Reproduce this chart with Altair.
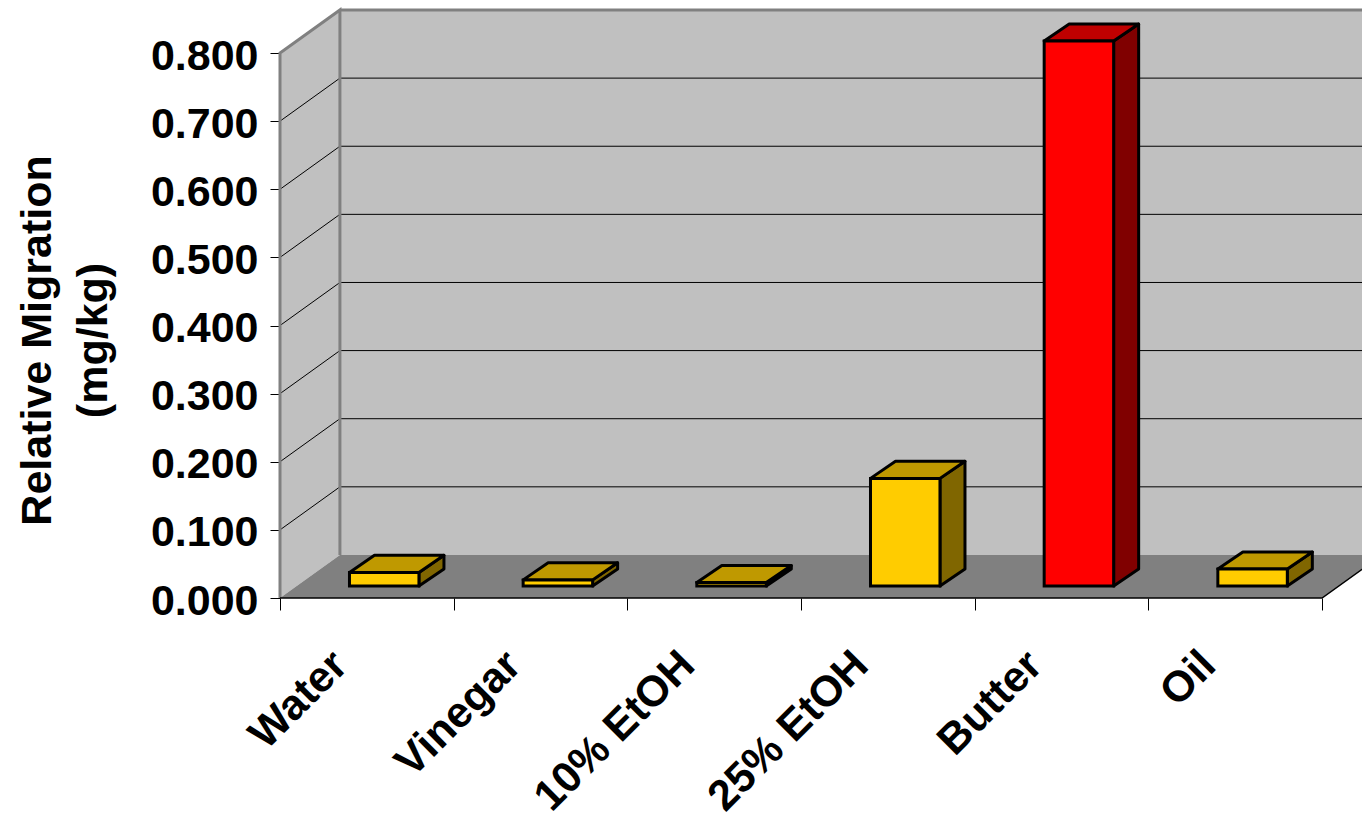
import altair as alt
import pandas as pd

# Measured migration per food simulant
categories = ["Water", "Vinegar", "10% EtOH", "25% EtOH", "Butter", "Oil"]
values = [0.020, 0.009, 0.005, 0.158, 0.800, 0.025]
bar_colors = ["#FFCC00", "#FFCC00", "#FFCC00", "#FFCC00", "#FF0000", "#FFCC00"]
top_colors = ["#BF9900", "#BF9900", "#BF9900", "#BF9900", "#BF0000", "#BF9900"]
side_colors = ["#806600", "#806600", "#806600", "#806600", "#800000", "#806600"]
y_ticks = [0.0, 0.1, 0.2, 0.3, 0.4, 0.5, 0.6, 0.7, 0.8]

# Oblique projection: how far the back wall and the bars recede, in axis units
WALL_DX, WALL_DY = 0.345, 0.0632
BAR_DX, BAR_DY = 0.144, 0.0250
BAR_OFF_X, BAR_OFF_Y = 0.100, 0.0176
BAR_WIDTH = 0.40
Y_MAX = 0.8 + WALL_DY
N = len(categories)
X_MAX = 6.23

x_scale = alt.Scale(domain=[0, X_MAX], nice=False, zero=False)
y_scale = alt.Scale(domain=[0, Y_MAX], nice=False, zero=False)
X = lambda f="x", **k: alt.X(f"{f}:Q", scale=x_scale, axis=None, **k)
Y = lambda f="y", **k: alt.Y(f"{f}:Q", scale=y_scale, axis=None, **k)
Y2 = alt.Y2("y2:Q")

# Side wall, back wall and floor
side_wall = pd.DataFrame([
    {"x": 0, "y": 0, "y2": 0.8},
    {"x": WALL_DX, "y": WALL_DY, "y2": 0.8 + WALL_DY},
])
back_wall = pd.DataFrame([
    {"x": WALL_DX, "y": WALL_DY, "y2": Y_MAX},
    {"x": N + WALL_DX, "y": WALL_DY, "y2": Y_MAX},
])
floor = pd.DataFrame([
    {"x": 0, "y": 0, "y2": 0},
    {"x": WALL_DX, "y": 0, "y2": WALL_DY},
    {"x": N, "y": 0, "y2": WALL_DY},
    {"x": N + WALL_DX, "y": WALL_DY, "y2": WALL_DY},
])
walls = alt.Chart(back_wall).mark_area(color="#C0C0C0").encode(x=X(), y=Y(), y2=Y2)
side = alt.Chart(side_wall).mark_area(color="#C0C0C0").encode(x=X(), y=Y(), y2=Y2)
floor_layer = alt.Chart(floor).mark_area(color="#808080").encode(x=X(), y=Y(), y2=Y2)

# Gridlines: along the side wall from each tick, then across the back wall
rows = []
for t in y_ticks[1:-1]:
    rows += [
        {"tick": t, "o": 0, "x": 0, "y": t},
        {"tick": t, "o": 1, "x": WALL_DX, "y": t + WALL_DY},
        {"tick": t, "o": 2, "x": N + WALL_DX, "y": t + WALL_DY},
    ]
grid = alt.Chart(pd.DataFrame(rows)).mark_line(color="#000000", strokeWidth=1).encode(
    x=X(), y=Y(), detail="tick:N", order="o:Q"
)


def outline(points, color, width):
    df = pd.DataFrame([{"x": a, "y": b, "o": i} for i, (a, b) in enumerate(points)])
    return alt.Chart(df).mark_line(color=color, strokeWidth=width).encode(
        x=X(), y=Y(), order="o:Q"
    )


# Chart edges: wall frame in grey, floor front in black
frame = (
    outline([(0, 0), (0, 0.8), (WALL_DX, Y_MAX), (WALL_DX, WALL_DY)], "#808080", 3)
    + outline([(WALL_DX, Y_MAX), (N + WALL_DX, Y_MAX)], "#808080", 3)
    + outline([(0, 0), (N, 0), (N + WALL_DX, WALL_DY)], "#000000", 1.5)
)

# Bar faces, all computed from the values above
front_rows, top_rows, side_rows = [], [], []
for i, (name, v) in enumerate(zip(categories, values)):
    x0 = i + 0.5 - BAR_WIDTH / 2 + BAR_OFF_X
    x1 = x0 + BAR_WIDTH
    y0 = BAR_OFF_Y
    y1 = BAR_OFF_Y + v
    front_rows.append({"cat": name, "x": x0, "x2": x1, "y": y0, "y2": y1, "c": bar_colors[i]})
    top_rows += [
        {"cat": name, "x": x0, "y": y1, "y2": y1, "c": top_colors[i]},
        {"cat": name, "x": x0 + BAR_DX, "y": y1, "y2": y1 + BAR_DY, "c": top_colors[i]},
        {"cat": name, "x": x1, "y": y1, "y2": y1 + BAR_DY, "c": top_colors[i]},
        {"cat": name, "x": x1 + BAR_DX, "y": y1 + BAR_DY, "y2": y1 + BAR_DY, "c": top_colors[i]},
    ]
    side_rows += [
        {"cat": name, "x": x1, "y": y0, "y2": y1, "c": side_colors[i]},
        {"cat": name, "x": x1 + BAR_DX, "y": y0 + BAR_DY, "y2": y1 + BAR_DY, "c": side_colors[i]},
    ]

face_color = alt.Color("c:N", scale=None, legend=None)
STROKE = 3
side_faces = alt.Chart(pd.DataFrame(side_rows)).mark_area(
    stroke="#000000", strokeWidth=STROKE, strokeJoin="round"
).encode(x=X(), y=Y(), y2=Y2, color=face_color, detail="cat:N")
top_faces = alt.Chart(pd.DataFrame(top_rows)).mark_area(
    stroke="#000000", strokeWidth=STROKE, strokeJoin="round"
).encode(x=X(), y=Y(), y2=Y2, color=face_color, detail="cat:N")
front_faces = alt.Chart(pd.DataFrame(front_rows)).mark_rect(
    stroke="#000000", strokeWidth=STROKE
).encode(x=X(), x2=alt.X2("x2:Q"), y=Y(), y2=Y2, color=face_color)

# Axes: ticks and value labels on the left, boundary ticks along the floor edge
FONT = "Liberation Sans"
y_axis = alt.Axis(
    values=y_ticks, format=".3f", domain=False, grid=False, ticks=True, tickColor="#000000",
    tickSize=10, tickWidth=1, labelFont=FONT, labelFontSize=43, labelFontWeight="bold",
    labelColor="#000000", labelPadding=12, labelOverlap=False, labelFlush=False, labelOffset=3,
    title=["Relative Migration", "(mg/kg)"], titleFont=FONT, titleFontSize=43,
    titleFontWeight="bold", titleColor="#000000", titleX=-243, titleY=330, titleAngle=270,
    titleAlign="center", titleBaseline="middle", titleLineHeight=56,
)
x_tick_axis = alt.Axis(
    values=list(range(N + 1)), labels=False, domain=False, grid=False, tickColor="#000000",
    tickSize=12, tickWidth=1, title=None, orient="bottom",
)
expr = "[" + ",".join(f"'{c}'" for c in categories) + "][floor(datum.value)]"
x_label_axis = alt.Axis(
    values=[i + 0.5 for i in range(N)], labelExpr=expr, domain=False, grid=False, ticks=False,
    labelAngle=-45, labelAlign="right", labelBaseline="middle", labelFont=FONT,
    labelFontSize=43, labelFontWeight="bold", labelColor="#000000", labelPadding=60,
    labelOffset=-27, labelLimit=400,
    labelOverlap=False, labelFlush=False, labelBound=False, title=None, orient="bottom",
)
axes_df = pd.DataFrame({"x": [0, N], "y": [0, 0.8]})
tick_axes = alt.Chart(axes_df).mark_point(opacity=0).encode(
    x=alt.X("x:Q", scale=x_scale, axis=x_tick_axis),
    y=alt.Y("y:Q", scale=y_scale, axis=y_axis),
)
label_axis = alt.Chart(axes_df).mark_point(opacity=0).encode(
    x=alt.X("x:Q", scale=x_scale, axis=x_label_axis),
    y=alt.Y("y:Q", scale=y_scale, axis=None),
)

chart = (
    alt.layer(
        walls, side, floor_layer, grid, frame, side_faces, top_faces, front_faces,
        tick_axes, label_axis,
    )
    .resolve_axis(x="independent", y="independent")
    .properties(
        width=1082, height=588,
        padding={"left": 280, "top": 10, "right": 0, "bottom": 220},
        autosize=alt.AutoSizeParams(type="none"),
        background="#FFFFFF",
    )
    .configure_view(stroke=None)
)

chart.save("out.html", embed_options={"renderer": "svg", "actions": False})
